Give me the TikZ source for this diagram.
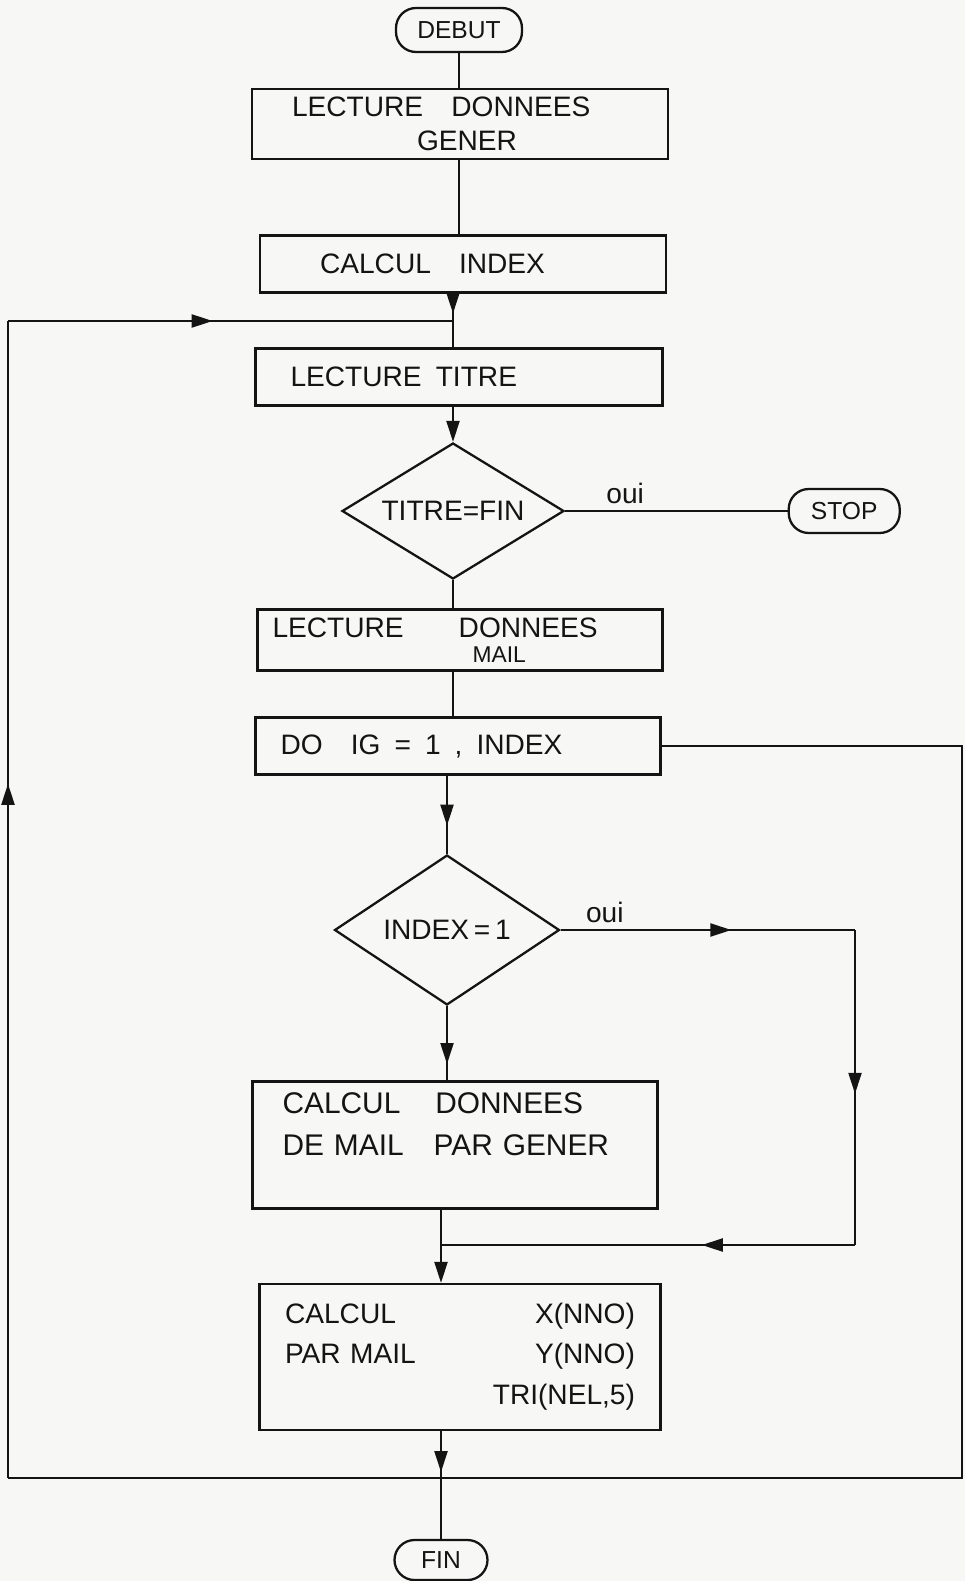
\documentclass[tikz,border=0pt]{standalone}
\usepackage{fontspec}
\setmainfont{Liberation Sans}
\usepackage{xcolor}
\definecolor{papier}{HTML}{F7F7F5}
\definecolor{encre}{HTML}{141414}
\usetikzlibrary{shapes.geometric, arrows.meta, positioning, decorations.markings}
\newcommand{\flowfont}{\fontsize{16}{19}\selectfont}
\newcommand{\bigflowfont}{\fontsize{17}{20}\selectfont}
\newcommand{\termfont}{\fontsize{14}{16}\selectfont}

\begin{document}
\begin{tikzpicture}[x=0.02cm, y=-0.02cm, color=encre, line width=1.2pt,
  proc/.style={rectangle, draw, line width=1.3pt, font=\flowfont,
    align=left, inner ysep=2pt},
  term/.style={rectangle, rounded corners=0.4cm, draw, line width=1.3pt,
    font=\termfont, minimum height=0.88cm, inner xsep=0.3cm},
  test/.style={diamond, draw, line width=1.3pt, font=\flowfont, inner sep=0pt},
  arrow/.style={-{Triangle[length=4.2mm, width=2.6mm]}},
  midarrow/.style={postaction={decorate}, decoration={markings,
    mark=at position #1 with {\arrow{Triangle[length=4.2mm, width=2.6mm]}}}}
]
\path[fill=papier, use as bounding box] (0,0) rectangle (965,1581);

\node[term, minimum width=2.52cm] (debut) at (459,30) {DEBUT};
\node[proc, text width=6.72cm, inner xsep=0.8cm, minimum height=1.4cm] (gener) at (460,124)
  {LECTURE\quad DONNEES\\\hspace*{2.5cm}GENER};
\node[proc, text width=5.72cm, inner xsep=1.2cm, minimum height=1.14cm] (calcindex) at (463,264)
  {CALCUL\quad INDEX};
\node[proc, text width=6.74cm, inner xsep=0.7cm, minimum height=1.14cm] (lectitre) at (459,377)
  {LECTURE\enspace TITRE};
\node[test, aspect=1.63, minimum width=4.44cm, minimum height=2.72cm] (titrefin) at (453,511)
  {TITRE=FIN};
\node[term, minimum width=2.22cm, right=4.45cm of titrefin] (stop) {STOP};
\node[proc, text width=7.5cm, inner xsep=0.3cm, minimum height=1.22cm] (lecmail) at (460,640)
  {LECTURE\hspace{1.1cm}DONNEES\\[-5pt]\hspace*{4cm}{\fontsize{13}{15}\selectfont MAIL}};
\node[proc, text width=7.1cm, inner xsep=0.5cm, minimum height=1.14cm] (boucle) at (458,746)
  {DO\quad IG\enspace=\enspace1\enspace,\enspace INDEX};
\node[test, aspect=1.5, minimum width=4.5cm, minimum height=3cm] (index1) at (447,930)
  {INDEX\,=\,1};
\node[proc, text width=6.9cm, inner xsep=0.6cm, minimum height=2.54cm, font=\bigflowfont] (calcmail) at (455,1145)
  {CALCUL\hspace{0.7cm}DONNEES\\[4pt]DE MAIL\hspace{0.6cm}PAR GENER\\[4pt]\mbox{}};
\node[proc, text width=7.0cm, inner xsep=0.51cm, minimum height=2.92cm] (calcxy) at (460,1357)
  {\begin{tabular*}{\linewidth}{@{}l@{\extracolsep{\fill}}r@{}}
   CALCUL & X(NNO)\\[4pt]
   PAR MAIL & Y(NNO)\\[4pt]
   & TRI(NEL,5)
   \end{tabular*}};
\node[term, minimum width=1.86cm, minimum height=0.8cm] (fin) at (441,1560) {FIN};

\coordinate (jonction) at (441,1245);
\coordinate (cote) at (855,1245);
\coordinate (coinbd) at (962,1478);
\coordinate (coinbg) at (8,1478);
\coordinate (coinhg) at (8,321);

% main column
\draw (debut) -- (debut |- gener.north);
\draw (gener.south -| debut) -- (debut |- calcindex.north);
\draw[midarrow=0.37] (calcindex.south -| titrefin) -- (titrefin |- lectitre.north);
\draw[arrow] (lectitre.south -| titrefin) -- (titrefin.north);
\draw (titrefin.south) -- (titrefin |- lecmail.north);
\draw (lecmail.south -| titrefin) -- (titrefin |- boucle.north);
\draw[midarrow=0.64] (boucle.south -| index1) -- (index1.north);
\draw[midarrow=0.78] (index1.south) -- (index1 |- calcmail.north);
\draw (calcmail.south -| fin) -- (jonction);
\draw[arrow] (jonction) -- (jonction |- calcxy.north);
\draw[midarrow=0.38] (calcxy.south -| fin) -- (fin.north);

% branches
\draw (titrefin.east) -- (stop.west) node[above, pos=0.27, font=\flowfont] (oui1) {oui};
\draw[midarrow=0.58] (index1.east) -- (index1.east -| cote)
  node[above, pos=0.15, font=\flowfont] (oui2) {oui};
\draw[midarrow=0.52] (index1.east -| cote) -- (cote);
\draw[midarrow=0.37] (cote) -- (jonction);

% loop back
\draw (boucle.east) -- (boucle.east -| coinbd) -- (coinbd) -- (coinbg);
\draw[midarrow=0.6] (coinbg) -- (coinhg);
\draw[midarrow=0.46] (coinhg) -- (coinhg -| titrefin);
\end{tikzpicture}
\end{document}
